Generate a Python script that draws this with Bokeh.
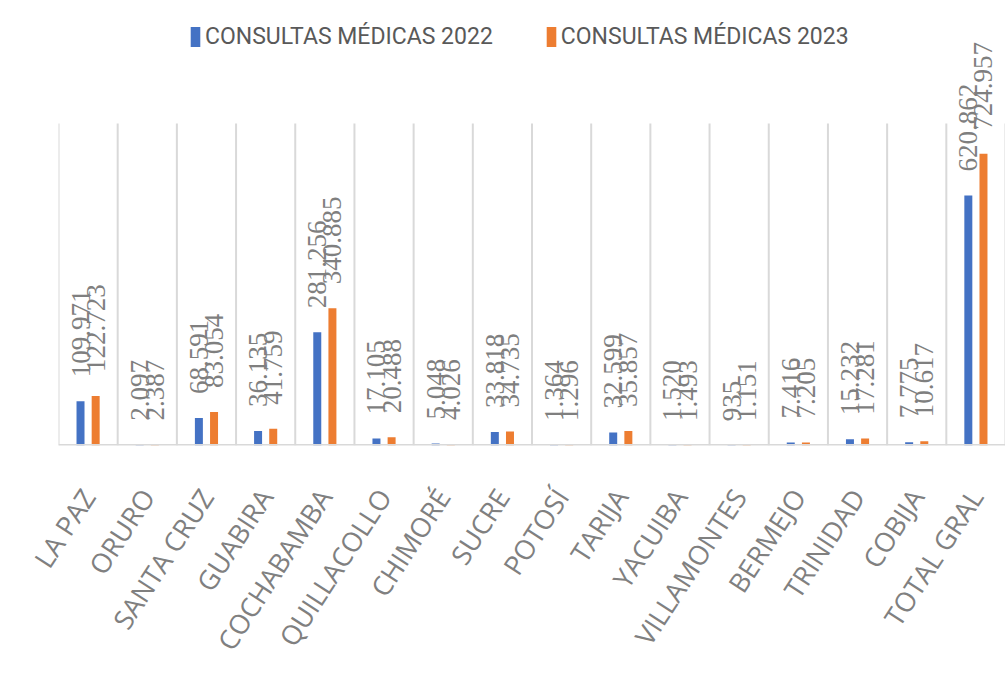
import math
from bokeh.plotting import figure
from bokeh.models import (ColumnDataSource, FactorRange, Range1d, LabelSet, Span,
                          Legend, LegendItem)
from bokeh.transform import dodge
from bokeh.embed import file_html
from bokeh.resources import INLINE

categories = ["LA PAZ", "ORURO", "SANTA CRUZ", "GUABIRA", "COCHABAMBA", "QUILLACOLLO",
              "CHIMORÉ", "SUCRE", "POTOSÍ", "TARIJA", "YACUIBA", "VILLAMONTES",
              "BERMEJO", "TRINIDAD", "COBIJA", "TOTAL GRAL"]
consultas_2022 = [109971, 2097, 68591, 36135, 281256, 17105, 5048, 33818, 1364, 32599,
                  1520, 935, 7416, 15232, 7775, 620862]
consultas_2023 = [122723, 2387, 83054, 41759, 340885, 20488, 4026, 34735, 1296, 35857,
                  1493, 1151, 7205, 17281, 10617, 724957]
series_names = ["CONSULTAS MÉDICAS 2022", "CONSULTAS MÉDICAS 2023"]
axis_max = 800000


def fmt(v):
    return f"{v:,}".replace(",", ".")


source = ColumnDataSource(dict(
    cat=categories,
    v22=consultas_2022,
    v23=consultas_2023,
    l22=[fmt(v) for v in consultas_2022],
    l23=[fmt(v) for v in consultas_2023],
))

BLUE = "#4472C4"
ORANGE = "#ED7D31"
GRID = "#D9D9D9"
LABEL_GRAY = "#7F7F7F"

FRAME_H = 445
PLOT_H = 322  # pixels between baseline and top of gridlines
y_top = axis_max * FRAME_H / PLOT_H

p = figure(x_range=FactorRange(*categories, range_padding=0),
           y_range=Range1d(0, y_top),
           frame_width=947, frame_height=FRAME_H,
           min_border_left=58, min_border_right=0, min_border_top=0,
           min_border_bottom=0,
           output_backend="svg", toolbar_location=None,
           y_axis_location=None, background_fill_color="white",
           border_fill_color="white")
p.outline_line_color = None
p.xgrid.grid_line_color = None
p.ygrid.grid_line_color = None

# category separators (only up to the plot-area top)
n = len(categories)
sep_x = list(range(n + 1))
p.segment(x0=sep_x, y0=[0] * (n + 1), x1=sep_x, y1=[axis_max] * (n + 1),
          line_color=GRID, line_width=2)
# baseline
p.add_layout(Span(location=0, dimension="width", line_color=GRID, line_width=3))

off = 0.128
bw = 0.135
r22 = p.vbar(x=dodge("cat", -off, range=p.x_range), top="v22", width=bw, bottom=0,
             source=source, fill_color=BLUE, line_color=None)
r23 = p.vbar(x=dodge("cat", off, range=p.x_range), top="v23", width=bw, bottom=0,
             source=source, fill_color=ORANGE, line_color=None)

for col, lab, o in (("v22", "l22", -off), ("v23", "l23", off)):
    ls = LabelSet(x=dodge("cat", o, range=p.x_range), y=col, text=lab, source=source,
                  angle=math.pi / 2, text_align="left", text_baseline="middle",
                  y_offset=24, text_font="DejaVu Sans", text_font_size="27px",
                  text_color=LABEL_GRAY)
    p.add_layout(ls)

ax = p.xaxis[0]
ax.axis_line_color = None
ax.major_tick_line_color = None
ax.minor_tick_line_color = None
ax.major_tick_out = 0
ax.major_label_standoff = 46
ax.major_label_orientation = math.radians(57)
ax.major_label_text_font = "Open Sans"
ax.major_label_text_font_size = "27px"
ax.major_label_text_color = "#808080"

legend = Legend(items=[LegendItem(label=series_names[0], renderers=[r22]),
                       LegendItem(label=series_names[1], renderers=[r23])],
                orientation="horizontal", location=(131, 395),
                glyph_width=12, glyph_height=25, padding=0, margin=0,
                label_standoff=4, spacing=52, border_line_color=None,
                background_fill_alpha=0,
                label_text_font="Roboto", label_text_font_size="23px",
                label_text_color="#595959")
p.add_layout(legend, "center")

open("out.html", "w").write(file_html(p, INLINE))
